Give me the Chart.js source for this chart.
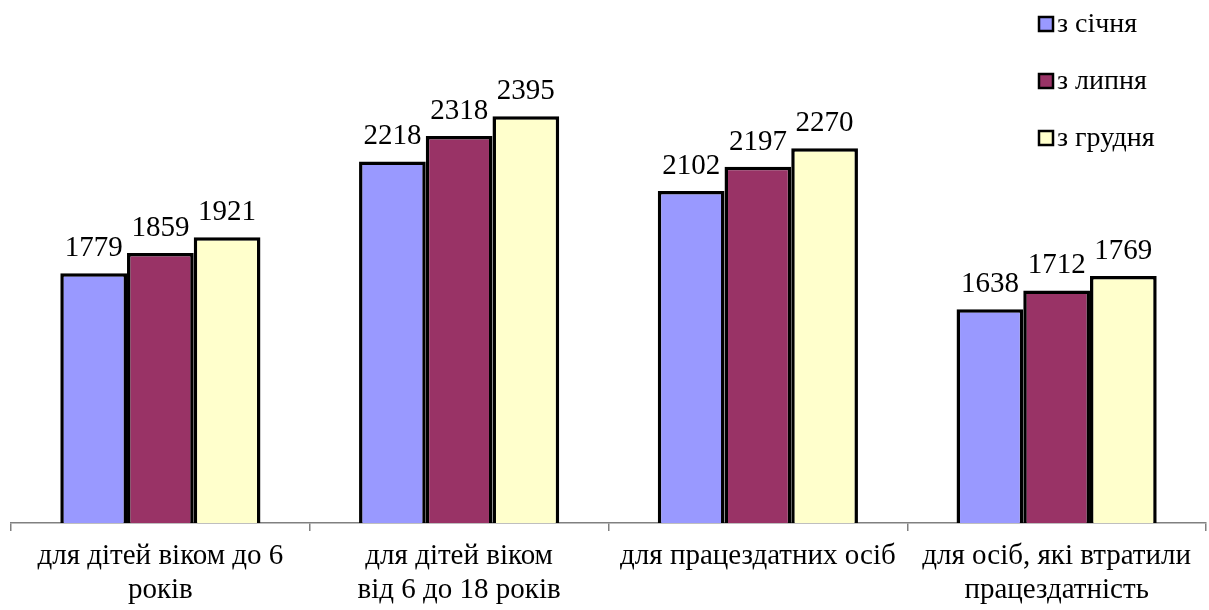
<!DOCTYPE html>
<html>
<head>
<meta charset="utf-8">
<script src="https://cdn.jsdelivr.net/npm/chart.js@4.4.0/dist/chart.umd.min.js"></script>
<style>
  body { margin: 0; background: #fff; }
  #wrap { width: 1209px; height: 610px; }
</style>
</head>
<body>
<div id="wrap"><canvas id="myChart" width="1209" height="610"></canvas></div>
<script>
'use strict';

// categories (labels split into lines)
const categories = [
  ['для дітей віком до 6', 'років'],
  ['для дітей віком', 'від 6 до 18 років'],
  ['для працездатних осіб'],
  ['для осіб, які втратили', 'працездатність']
];
// series
const seriesNames = ['з січня', 'з липня', 'з грудня'];
const fromJanuary = [1779, 2218, 2102, 1638];
const fromJuly = [1859, 2318, 2197, 1712];
const fromDecember = [1921, 2395, 2270, 1769];

const colours = ['#9999FF', '#993366', '#FFFFCC'];
const FONT = '"Liberation Serif", "Times New Roman", serif';

// values above the bars
const valueLabels = {
  id: 'valueLabels',
  afterDatasetsDraw(chart) {
    const ctx = chart.ctx;
    ctx.save();
    ctx.font = '29px ' + FONT;
    ctx.fillStyle = '#000';
    ctx.textAlign = 'center';
    ctx.textBaseline = 'alphabetic';
    chart.data.datasets.forEach((ds, i) => {
      chart.getDatasetMeta(i).data.forEach((bar, j) => {
        ctx.fillText(ds.data[j], bar.x, bar.y - 17);
      });
    });
    ctx.restore();
  }
};

// legend in the top right corner
const cornerLegend = {
  id: 'cornerLegend',
  afterDraw(chart) {
    const ctx = chart.ctx;
    ctx.save();
    ctx.font = '28px ' + FONT;
    ctx.textBaseline = 'middle';
    chart.data.datasets.forEach((ds, i) => {
      let y = 24 + i * 57;
      ctx.fillStyle = ds.backgroundColor;
      ctx.fillRect(1039, y - 7, 14, 14);
      ctx.lineWidth = 2.5;
      ctx.strokeStyle = '#000';
      ctx.strokeRect(1039, y - 7, 14, 14);
      ctx.fillStyle = '#000';
      ctx.fillText(ds.label, 1057, y + 1);
    });
    ctx.restore();
  }
};

const config = {
  type: 'bar',
  data: {
    labels: categories,
    datasets: [
      { label: seriesNames[0], data: fromJanuary, backgroundColor: colours[0] },
      { label: seriesNames[1], data: fromJuly, backgroundColor: colours[1] },
      { label: seriesNames[2], data: fromDecember, backgroundColor: colours[2] }
    ].map(d => Object.assign(d, {
      borderColor: '#000',
      borderWidth: 3.5,
      borderSkipped: 'bottom',
      categoryPercentage: 0.67,
      barPercentage: 1
    }))
  },
  options: {
    responsive: false,
    animation: false,
    devicePixelRatio: 1,
    layout: { padding: { top: 64, left: 11, right: 3, bottom: 0 } },
    plugins: {
      legend: { display: false },
      tooltip: { enabled: false }
    },
    scales: {
      y: {
        display: false,
        min: 800,
        max: 2600
      },
      x: {
        // fixed height so the axis line sits where it does in the picture
        afterFit(scale) { scale.height = 87; },
        grid: {
          offset: true,
          drawOnChartArea: false,
          drawTicks: true,
          tickLength: 8,
          color: '#808080',
          lineWidth: 1.5
        },
        border: { display: true, color: '#808080', width: 1.5 },
        ticks: {
          color: '#000',
          font: { family: FONT, size: 29, lineHeight: 1.17 },
          padding: 8,
          maxRotation: 0,
          autoSkip: false
        }
      }
    }
  },
  plugins: [valueLabels, cornerLegend]
};

const ctx = document.getElementById('myChart').getContext('2d');
const myChart = new Chart(ctx, config);
</script>
</body>
</html>
